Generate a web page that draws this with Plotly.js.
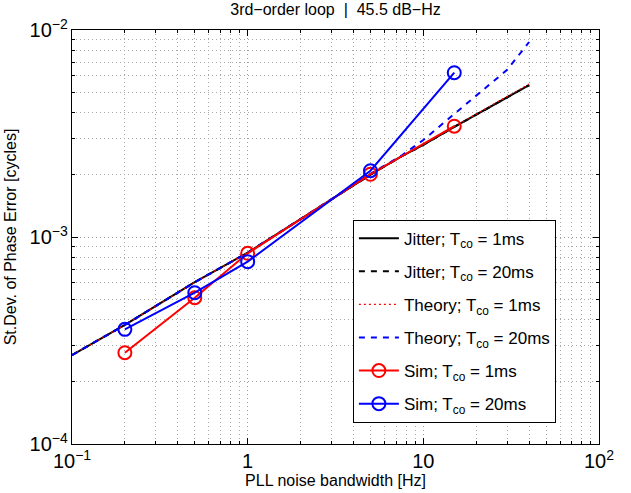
<!DOCTYPE html>
<html>
<head>
<meta charset="utf-8">
<script src="https://cdn.plot.ly/plotly-3.0.1.min.js"></script>
<style>html,body{margin:0;padding:0;background:#fff;}#chart{width:631px;height:493px;}</style>
</head>
<body>
<div id="chart"></div>
<script>
// Bandwidth grid for the analytical curves [Hz]
const bwCurve = [0.1, 0.2, 0.5, 1, 2, 5, 7.5, 10, 15, 20, 30, 40];
// Jitter curves (1 ms and 20 ms coincide)
const jitter1ms  = [2.69e-4, 3.76e-4, 6.05e-4, 8.4e-4, 1.22e-3, 2.0e-3, 2.45e-3, 2.79e-3, 3.40e-3, 3.90e-3, 4.70e-3, 5.42e-3];
const jitter20ms = [2.69e-4, 3.76e-4, 6.05e-4, 8.4e-4, 1.22e-3, 2.0e-3, 2.45e-3, 2.79e-3, 3.40e-3, 3.90e-3, 4.70e-3, 5.42e-3];
// Theory curves
const theory1ms  = [2.69e-4, 3.76e-4, 6.05e-4, 8.4e-4, 1.22e-3, 2.0e-3, 2.45e-3, 2.80e-3, 3.42e-3, 3.93e-3, 4.75e-3, 5.48e-3];
const theory20ms = [2.69e-4, 3.76e-4, 6.05e-4, 8.4e-4, 1.22e-3, 2.02e-3, 2.47e-3, 2.94e-3, 3.93e-3, 4.82e-3, 6.42e-3, 8.75e-3];
// Simulation points
const bwSim    = [0.2, 0.5, 1, 5, 15];
const sim1ms   = [2.76e-4, 5.09e-4, 8.34e-4, 2.01e-3, 3.43e-3];
const sim20ms  = [3.58e-4, 5.38e-4, 7.60e-4, 2.09e-3, 6.22e-3];

const names = [
  'Jitter; T<sub>co</sub> = 1ms',
  'Jitter; T<sub>co</sub> = 20ms',
  'Theory; T<sub>co</sub> = 1ms',
  'Theory; T<sub>co</sub> = 20ms',
  'Sim; T<sub>co</sub> = 1ms',
  'Sim; T<sub>co</sub> = 20ms'
];
const titleText = '3rd\u2212order loop  |  45.5 dB\u2212Hz';
const xLabel = 'PLL noise bandwidth [Hz]';
const yLabel = 'St.Dev. of Phase Error [cycles]';

const FONT = 'Liberation Sans, Arial, Helvetica, sans-serif';

const traces = [
  {x: bwCurve, y: jitter1ms, mode: 'lines', name: names[0], legendgroup: 'a',
   line: {color: '#000000', width: 2}},
  {x: bwCurve, y: jitter20ms, mode: 'lines', name: names[1], legendgroup: 'b',
   line: {color: '#000000', width: 2, dash: '6px,6px'}},
  {x: bwCurve, y: theory1ms, mode: 'lines', name: names[2], legendgroup: 'c',
   line: {color: '#ff0000', width: 1.2, dash: '2px,3px'}},
  {x: bwCurve, y: theory20ms, mode: 'lines', name: names[3], legendgroup: 'd',
   line: {color: '#0000ff', width: 2, dash: '6px,6px'}},
  {x: bwSim, y: sim1ms, mode: 'lines+markers', name: names[4], legendgroup: 'e',
   line: {color: '#ff0000', width: 2},
   marker: {symbol: 'circle-open', size: 13, color: '#ff0000', line: {width: 2, color: '#ff0000'}}},
  {x: bwSim, y: sim20ms, mode: 'lines+markers', name: names[5], legendgroup: 'f',
   line: {color: '#0000ff', width: 2},
   marker: {symbol: 'circle-open', size: 13, color: '#0000ff', line: {width: 2, color: '#0000ff'}}}
];

const axisCommon = {
  type: 'log',
  dtick: 1,
  exponentformat: 'power',
  showline: true,
  linecolor: '#000',
  linewidth: 1,
  mirror: 'ticks',
  ticks: 'inside',
  ticklen: 6,
  tickcolor: '#000',
  showgrid: true,
  gridcolor: '#9a9a9a',
  griddash: '1px,3px',
  gridwidth: 1,
  zeroline: false,
  tickfont: {family: FONT, size: 16, color: '#000'},
  minor: {showgrid: true, gridcolor: '#a8a8a8', griddash: '1px,3px', gridwidth: 1,
          ticks: 'inside', ticklen: 3, tickcolor: '#000'}
};

const layout = {
  width: 631, height: 493,
  margin: {l: 72, r: 32, t: 30, b: 49},
  paper_bgcolor: '#fff', plot_bgcolor: '#fff',
  font: {family: FONT, size: 16, color: '#000'},
  title: {text: titleText, font: {family: FONT, size: 16, color: '#000'},
          x: 0.5, xref: 'paper', y: 1, yref: 'container', yanchor: 'top', pad: {t: 4}},
  xaxis: Object.assign({}, axisCommon, {
    range: [-1, 2],
    title: {text: xLabel, font: {family: FONT, size: 16, color: '#000'}, standoff: 2}
  }),
  yaxis: Object.assign({}, axisCommon, {
    range: [-4, -2],
    title: {text: yLabel, font: {family: FONT, size: 16, color: '#000'}, standoff: 8}
  }),
  showlegend: true,
  legend: {
    x: 0.533, y: 0.542, xanchor: 'left', yanchor: 'top',
    bgcolor: '#fff', bordercolor: '#000', borderwidth: 1,
    font: {family: FONT, size: 17, color: '#000'},
    tracegroupgap: 8,
    itemwidth: 40
  }
};

Plotly.newPlot('chart', traces, layout, {displayModeBar: false, staticPlot: true});
</script>
</body>
</html>
